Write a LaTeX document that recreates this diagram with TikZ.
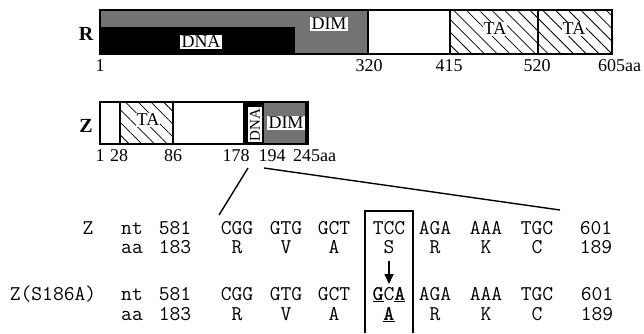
\documentclass[tikz,border=0pt]{standalone}
\usepackage{fontspec}
\setmainfont{Liberation Serif}
\usetikzlibrary{patterns.meta,arrows.meta}
\newcommand\ubold[1]{\setbox0\hbox{\textbf{#1}}\rlap{\rule[-2.4pt]{\wd0}{1.3pt}}\box0}
\tikzset{
  lbl/.style={font=\fontsize{18}{18}\selectfont, inner sep=0pt, anchor=base},
  wlbl/.style={font=\fontsize{18}{18}\selectfont, inner sep=1.5pt, fill=white},
  big/.style={font=\fontsize{20}{20}\selectfont\bfseries, inner sep=0pt},
  seq/.style={font=\fontsize{21}{21}\selectfont\ttfamily, inner sep=0pt, anchor=base},
  hatch/.style={pattern={Lines[angle=-45,distance=9pt,line width=0.8pt]}},
  stip/.style={fill=black!55},
  barline/.style={line width=1.3pt},
  conn/.style={line width=1.4pt},
}
\begin{document}
\begin{tikzpicture}[x=1pt,y=-1pt]
\useasboundingbox[fill=white] (0,0) rectangle (644,333);

% ---------- R bar ----------
\path[stip] (100,10) rectangle (368,54);
\fill[black] (100,27) rectangle (295,54);
\path[hatch] (450,10) rectangle (612,54);
\draw[barline] (100,10) rectangle (612,54);
\draw[barline] (368,10) -- (368,54);
\draw[barline] (450,10) -- (450,54);
\draw[barline] (538,10) -- (538,54);
\node[wlbl] (rdna) at (201,42) {DNA};
\node[wlbl] (rdim) at (329,24) {DIM};
\node[wlbl, inner sep=1pt] (rta1) at (495,29) {TA};
\node[wlbl, inner sep=1pt] (rta2) at (574,29) {TA};
\node[big] (rlab) at (86,34) {R};
\node[lbl] (r1) at (100,71) {1};
\node[lbl] (r320) at (369,71) {320};
\node[lbl] (r415) at (449,71) {415};
\node[lbl] (r520) at (537,71) {520};
\node[lbl, anchor=base west] (r605) at (598,71) {605aa};

% ---------- Z bar ----------
\path[hatch] (120,102) rectangle (173,144);
\fill[black] (243,102) rectangle (264,144);
\fill[white] (248,107) rectangle (262,142);
\path[stip] (264,102) rectangle (308,144);
\draw[barline] (100,102) rectangle (308,144);
\draw[barline] (120,102) -- (120,144);
\draw[barline] (173,102) -- (173,144);
\draw[line width=3pt] (306.5,102) -- (306.5,144);
\node[wlbl, inner sep=1pt] (zta) at (148,120) {TA};
\node[font=\fontsize{15}{15}\selectfont, inner sep=0pt, rotate=90] (zdna) at (255,125) {DNA};
\node[wlbl, inner sep=1.5pt] (zdim) at (286,123) {DIM};
\node[big] (zlab) at (86,126) {Z};
\node[lbl] (z1) at (100,161) {1};
\node[lbl] (z28) at (119,161) {28};
\node[lbl] (z86) at (173,161) {86};
\node[lbl] (z178) at (236,161) {178};
\node[lbl] (z194) at (272,161) {194};
\node[lbl, anchor=base west] (z245) at (293,161) {245aa};

% ---------- zoom lines ----------
\coordinate (la) at (248,168);
\coordinate (lb) at (219,215);
\coordinate (ma) at (264,168);
\coordinate (mb) at (560,210);
\draw[conn] (la) -- (lb);
\draw[conn] (ma) -- (mb);

% ---------- sequence ----------
\coordinate (bxa) at (365,333);
\coordinate (bxb) at (365,211);
\coordinate (bxc) at (413,211);
\coordinate (bxd) at (413,333);
\draw[line width=1.1pt] (bxa) -- (bxb) -- (bxc) -- (bxd);

% row 1
\node[seq] (a0) at (88,234) {Z};
\node[seq] (a1) at (132,234) {nt};
\node[seq] (a2) at (175,234) {581};
\node[seq] (a3) at (237,234) {CGG};
\node[seq] (a4) at (286,234) {GTG};
\node[seq] (a5) at (334,234) {GCT};
\node[seq] (a6) at (389,234) {TCC};
\node[seq] (a7) at (435,234) {AGA};
\node[seq] (a8) at (486,234) {AAA};
\node[seq] (a9) at (537,234) {TGC};
\node[seq] (a10) at (596,234) {601};
% row 2
\node[seq] (b1) at (132,253) {aa};
\node[seq] (b2) at (175,253) {183};
\node[seq] (b3) at (237,253) {R};
\node[seq] (b4) at (286,253) {V};
\node[seq] (b5) at (334,253) {A};
\node[seq] (b6) at (389,253) {S};
\node[seq] (b7) at (435,253) {R};
\node[seq] (b8) at (486,253) {K};
\node[seq] (b9) at (537,253) {C};
\node[seq] (b10) at (596,253) {189};
% row 3
\node[seq] (c0) at (53,300) {Z(S186A)};
\node[seq] (c1) at (132,300) {nt};
\node[seq] (c2) at (175,300) {581};
\node[seq] (c3) at (237,300) {CGG};
\node[seq] (c4) at (286,300) {GTG};
\node[seq] (c5) at (334,300) {GCT};
\node[seq] (c6) at (389,300) {\ubold{G}C\ubold{A}};
\node[seq] (c7) at (435,300) {AGA};
\node[seq] (c8) at (486,300) {AAA};
\node[seq] (c9) at (537,300) {TGC};
\node[seq] (c10) at (597,300) {601};
% row 4
\node[seq] (d1) at (132,320) {aa};
\node[seq] (d2) at (175,320) {183};
\node[seq] (d3) at (237,320) {R};
\node[seq] (d4) at (286,320) {V};
\node[seq] (d5) at (334,320) {A};
\node[seq] (d6) at (389,320) {\ubold{A}};
\node[seq] (d7) at (435,320) {R};
\node[seq] (d8) at (486,320) {K};
\node[seq] (d9) at (537,320) {C};
\node[seq] (d10) at (597,320) {189};

\draw[line width=1.6pt, -{Triangle[length=10pt,width=9pt]}] (b6.south |- 0,261) -- (b6.south |- 0,284);
\end{tikzpicture}
\end{document}
